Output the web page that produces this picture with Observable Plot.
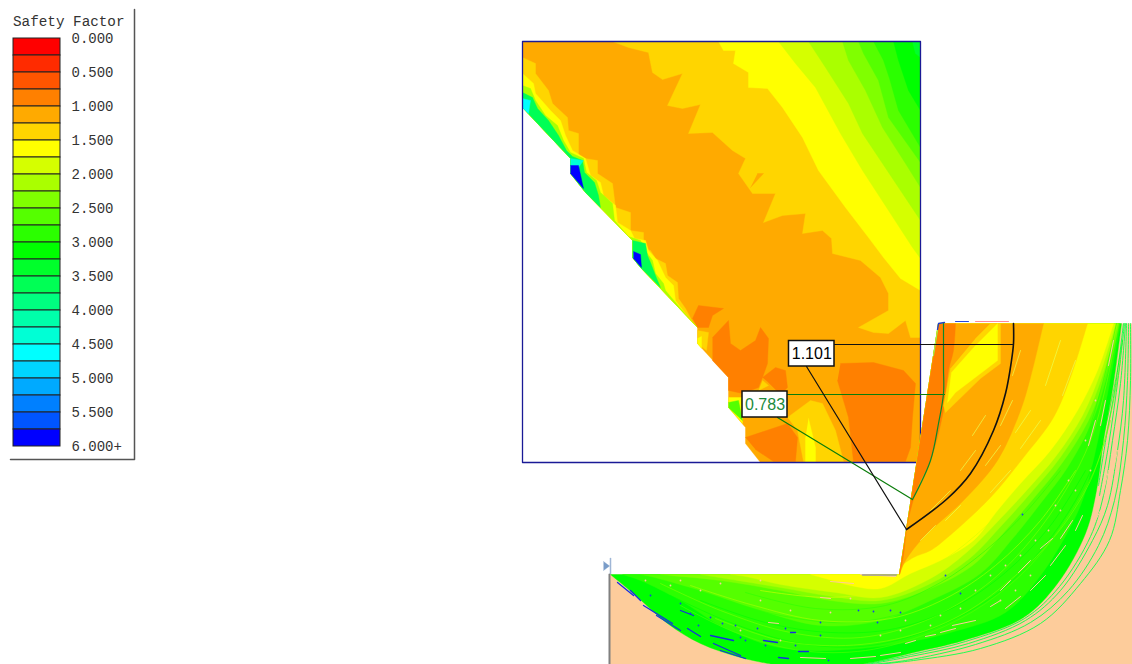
<!DOCTYPE html>
<html><head><meta charset="utf-8">
<style>html,body{margin:0;padding:0;background:#fff}svg{display:block}</style>
<script src="https://cdn.jsdelivr.net/npm/d3@7"></script>
<script src="https://cdn.jsdelivr.net/npm/@observablehq/plot@0.6"></script>
</head><body><div id="chart"></div><script>
const sfLevels=[0,.25,.5,.75,1,1.25,1.5,1.75,2,2.25,2.5,2.75,3,3.25,3.5,3.75,4,4.25,4.5,4.75,5,5.25,5.5,5.75];
const sfColors=["#ff0000","#ff2b00","#ff5500","#ff8000","#ffaa00","#ffd500","#ffff00","#d5ff00","#aaff00","#80ff00","#55ff00","#2bff00","#00ff00","#00ff2b","#00ff55","#00ff80","#00ffaa","#00ffd5","#00ffff","#00d5ff","#00aaff","#0080ff","#0055ff","#0000ff"];
const tickLabels=["0.000","0.500","1.000","1.500","2.000","2.500","3.000","3.500","4.000","4.500","5.000","5.500","6.000+"];
const soilColor="#fdcc9b";

// upper square: contours of safety factor, layered
const domainGrid=[[522,41],[920,41],[920,462],[760,462],[745,443],[745,427],[728,407],[728,377],[697,343],[697,327],[640,267],[632,257],[632,240],[585,192],[570,173],[570,158],[522,107]];
const cutEdge=[[697,327],[640,267],[632,257],[632,240],[585,192],[570,173],[570,158],[522,107]];
const c125=[[612,41],[628,47],[648,52],[652,72],[662,79],[682,73],[667,105],[682,108],[700,104],[688,133],[712,132],[732,150],[745,158],[738,173],[752,193],[775,193],[763,222],[782,215],[805,213],[802,233],[822,230],[831,238],[832,253],[860,260],[880,277],[888,293],[888,310],[858,327],[873,332],[888,333],[905,320],[910,337],[920,337],[920,41]];
const c125pocket=[[750,187],[763,173],[757,173]];
const c150=[[718,41],[723,50],[735,50],[733,63],[748,72],[748,87],[767,88],[782,107],[802,137],[818,170],[845,207],[868,237],[883,257],[900,278],[920,290],[920,41]];
const c175=[[778,41],[795,63],[815,87],[840,133],[862,170],[888,210],[912,247],[920,258],[920,41]];
const c200=[[808,41],[825,67],[848,103],[862,133],[882,163],[902,193],[920,220],[920,41]];
const c225=[[842,41],[848,60],[865,90],[882,127],[905,163],[920,187],[920,41]];
const c250=[[858,41],[863,53],[878,80],[888,117],[920,162],[920,41]];
const c275=[[873,41],[883,60],[889,78],[898,110],[920,147],[920,41]];
const c300=[[893,41],[898,60],[908,90],[920,110],[920,41]];
const c325=[[912,41],[915,53],[920,57],[920,41]];
const stripGold=[[522,57],[535,63],[535,73],[548,90],[552,103],[567,117],[568,130],[578,133],[578,157],[597,160],[597,173],[612,183],[615,207],[630,212],[630,230],[643,232],[643,248],[650,250],[655,258],[665,263],[667,275],[677,282],[678,298],[685,308],[693,323],...cutEdge];
const stripYellow=[[522,73],[533,83],[535,93],[550,110],[560,120],[565,135],[572,150],[585,158],[590,175],[600,182],[603,195],[615,205],[617,222],[630,230],[634,238],[645,240],[648,250],[657,260],[665,277],[673,285],[675,300],[690,320],...cutEdge];
const stripLime=[[522,85],[530,88],[535,100],[545,115],[557,125],[563,140],[570,152],[583,158],[586,172],[596,180],[600,192],[612,203],[614,220],[628,236],[640,240],[646,252],[652,260],[655,273],[663,283],[665,290],[680,308],...cutEdge];
const stripGreenA=[[522,92],[532,97],[537,108],[548,120],[558,135],[566,150],[572,156],[582,160],[584,172],[594,182],[598,195],[600,207],[585,192],[570,173],[570,158],[522,107]];
const stripGreenB=[[632,240],[645,243],[647,255],[650,262],[655,275],[660,287],[640,267],[632,257]];
const pocketCyan1=[[522,98],[530,100],[528,113],[522,107]];
const pocketCyan2=[[570,158],[583,160],[578,167],[570,167]];
const pocketBlue2=[[570,165],[578,165],[583,188],[570,173]];
const pocketBlue3=[[633,251],[640,254],[641,267],[633,258]];
const lowDarkA=[[692,318],[698,305],[723,308],[712,315],[708,327],[697,327]];
const lowGoldA=[[697,330],[708,332],[706,350],[697,343]];
const lowYellowA=[[697,338],[701,336],[701,348],[697,343]];
const lowDarkB=[[712,337],[728,320],[730,343],[740,350],[755,340],[760,327],[768,338],[767,363],[762,377],[758,387],[742,393],[728,390],[728,377],[712,360]];
const lowDarkC=[[762,377],[775,367],[785,370],[787,387],[780,394],[768,382]];
const lowDarkD=[[840,363],[873,362],[903,370],[915,383],[912,417],[910,447],[905,461],[853,461],[848,417],[837,380]];
const lowDarkE=[[745,437],[787,423],[797,437],[795,461],[773,461],[755,449]];
const lowGoldB=[[787,417],[810,400],[822,403],[835,430],[843,461],[803,461],[797,430]];
const lowYellowB=[[808,418],[815,447],[815,461],[805,461],[805,437]];
const lowGoldC=[[762,380],[768,385],[758,390]];
const lowYellowC=[[728,397],[742,397],[742,423],[728,407]];
const lowLimeC=[[728,402],[738,400],[742,420],[728,407]];

// lower part: soil and fan of slip surfaces; the doubled points keep corners sharp
const soil=[[609,574],[899,574],[938,323],[1132,323],[1132,664],[609,664]];
const closeFan=[[899,574],[899,574],[938,323],[938,323]];
const fan300=[[1121,323],[1113,383],[1103,440],[1096,490],[1085,533],[1057,583],[1023,617],[963,640],[913,652],[880,660],[860,664],[860,664],[773,664],[773,664],[740,657],[700,643],[667,623],[633,593],[610,574],[610,574],...closeFan];
const fan275=[[1120,323],[1109,383],[1098,437],[1083,497],[1068,530],[1040,575],[1005,612],[950,632],[905,642],[860,648],[810,650],[770,645],[720,625],[680,600],[640,580],[622,574],[622,574],...closeFan];
const fan250=[[1119,323],[1106,377],[1092,420],[1067,467],[1040,503],[1013,537],[980,573],[930,600],[880,620],[820,625],[760,610],[700,590],[650,576],[640,574],[640,574],...closeFan];
const fan225=[[1118,323],[1104,377],[1088,420],[1062,462],[1033,498],[1005,530],[972,565],[925,590],[880,603],[830,600],[780,590],[720,580],[670,575],[660,574],[660,574],...closeFan];
const fan200=[[1117,323],[1102,375],[1085,417],[1059,458],[1029,494],[1002,524],[969,558],[928,584],[880,600],[832,596],[780,587],[725,578],[700,574],[700,574],...closeFan];
const fan175=[[1115,323],[1100,372],[1082,415],[1056,455],[1026,490],[1000,518],[966,552],[930,578],[880,597],[835,592],[780,584],[745,576],[730,574],[730,574],...closeFan];
const fan150=[[1113,323],[1097,370],[1077,410],[1050,450],[1020,483],[997,510],[973,540],[940,560],[910,573],[880,588],[850,585],[825,578],[810,574],[810,574],...closeFan];
const fan125=[[1087,323],[1070,377],[1053,417],[1023,457],[990,497],[947,537],[930,550],[913,557],[900,567],...closeFan];
const wedge=[[1043,323],[1030,377],[1020,410],[997,460],[963,500],[923,537],[905,560],...closeFan];
const wedgeDark=[[955,323],[953,350],[948,370],[943,410],[930,460],[917,487],[907,523],[903,555],...closeFan];
const wedgeGold=[[975,338],[990,323],[1000,323],[1000,363],[980,378],[945,412],[943,405],[950,368]];
const wedgeYellow=[[997,323],[997,360],[980,373],[955,392],[947,402],[951,372],[975,345]];

const envelopeArcs=[
 [[1130,323],[1130,380],[1127,440],[1120,490],[1109,540],[1080,583],[1040,623],[980,648],[913,660],[875,664]],
 [[1128,323],[1127,380],[1123,440],[1114,500],[1098,545],[1068,590],[1030,622],[975,644],[905,660],[870,664]],
 [[1126,323],[1123,400],[1117,450],[1107,505],[1092,540],[1060,590],[1025,620],[968,643],[910,656],[866,664]],
 [[1125,323],[1120,383],[1112,440],[1103,495],[1090,536],[1059,586],[1024,618],[965,641],[911,654],[863,664]],
 [[1124,323],[1118,375],[1108,445],[1099,495]],
 [[1123,323],[1115,385],[1106,435],[1098,485]]
];
const fanArc1=[[1118,323],[1106,383],[1090,440],[1065,490],[1030,540],[985,585],[925,620],[860,637],[790,632],[720,610],[660,583]];
const fanArc2=[[1116,323],[1102,383],[1084,440],[1056,490],[1020,538],[972,580],[920,607],[850,622],[780,615],[710,595],[650,578]];
const fanArc3=[[1122,340],[1112,395],[1098,450],[1075,500],[1040,550],[998,592],[940,625],[870,645],[800,643],[730,622],[670,595]];
const fanArc4=[[1120,360],[1111,410],[1096,465],[1068,515],[1030,565],[985,603],[930,632],[865,650],[800,650],[735,632],[680,605]];
const fanArc5=[[1110,420],[1090,480],[1055,535],[1015,575],[965,612],[910,635],[845,645],[780,640],[715,618]];
const fanArc6=[[1085,470],[1050,525],[1005,572],[955,606],[895,628],[830,632],[765,622],[700,600]];
const fanArc7=[[1075,470],[1040,520],[995,565],[945,598],[890,618],[820,620],[750,604],[690,585]];
const fanArc8=[[1060,470],[1025,512],[985,550],[940,582],[885,605],[815,608],[745,592]];
const fanArc9=[[1048,455],[1015,495],[975,535],[935,565],[895,587],[830,597],[760,590]];
const soilGaps=[
 [[1117,450],[1111,480]],[[1108,470],[1102,495]],[[1100,510],[1090,530]],[[1072,520],[1060,538]],[[1082,515],[1075,530]],
 [[1052,538],[1040,548]],[[1065,545],[1050,565]],[[1045,575],[1030,590]],[[1020,596],[1005,608]],[[955,628],[940,632]],[[952,625],[975,620]],
 [[915,640],[905,643]],[[925,636],[935,634]],[[1000,600],[990,606]],[[1030,560],[1018,572]],[[1010,580],[1000,590]],[[1095,420],[1088,445]],
 [[1105,400],[1100,425]],[[1113,340],[1108,365]],[[830,581],[853,583]],[[860,574],[895,576]],[[820,597],[830,598]],[[768,622],[778,623]],
 [[800,657],[825,658]],[[880,655],[900,652]],[[850,658],[875,656]]
];
const lightStreaks=[
 [[1060,340],[1045,385]],[[1075,360],[1062,395]],[[1040,420],[1020,448]],[[1010,470],[990,492]],[[1000,445],[985,465]],[[960,505],[945,520]],[[1030,410],[1015,432]],
 [[950,490],[930,510]],[[975,450],[960,470]],[[1012,400],[1000,425]],[[1020,350],[1012,375]],[[985,415],[972,435]],[[935,525],[920,540]]
];
const blueStreaks=[
 [[617,582],[633,595]],[[643,605],[672,623]],[[656,615],[680,630]],[[680,610],[693,615]],[[710,635],[733,640]],[[713,643],[740,655]],[[763,640],[777,642]],
 [[790,632],[795,632]],[[778,657],[788,658]],[[798,651],[808,651]],[[687,628],[700,636]],[[720,650],[745,658]],[[630,590],[640,600]]
];
const blueSpecks=[[650,595],[680,603],[710,617],[722,623],[735,625],[740,637],[745,640],[757,628],[795,645],[820,622],[858,610],[873,611],[877,622],[820,635],[828,660],[890,610],[900,612],[960,593],[1022,514],[945,575],[785,628],[765,645],[690,613],[698,625]];
const soilSpecks=[[645,580],[670,585],[700,590],[720,583],[760,600],[790,610],[830,612],[850,598],[880,635],[900,630],[940,615],[960,608],[975,590],[990,575],[1005,565],[1020,555],[1035,540],[1048,530],[1000,600],[1015,590],[1030,575],[1060,510],[1075,490],[1090,470],[1068,480],[1055,505],[1085,440],[1095,400],[930,625],[905,620],[780,640],[740,630],[680,580],[760,580]];

const arcBlack=[[906,529],[947,498],[970,473],[993,430],[1005,393],[1011,360],[1013,343],[1013,323]];
const arcGreen=[[912,499],[930,460],[938,423],[943,393],[943,367],[943,323]];
const leaderBlack1=[[834,344],[1012,344]];
const leaderBlack2=[[806,366],[906,529]];
const leaderGreen1=[[787,394],[944,394]];
const leaderGreen2=[[777,417],[912,499]];
const frameSquare=[[920,445],[920,41],[522,41],[522,462],[917,462]];
const frameLegend=[[134,9],[134,459],[10,459]];
const slopeStart=[[603,561],[609,565.5],[603,570]];
const flagPole=[[610,558],[610,573]];
const leftWall=[[609,574],[609,664]];
const floorGrey=[[862,574.5],[896,574.5]];
const topNoiseBlue=[[955,321],[968,321]];
const topNoisePink=[[975,321],[1008,321]];
const cornerBlue=[[937,329],[938,323],[944,322]];
const edgeLime=[[937,330],[933,355]];
const calloutBoxes=[{v:"1.101",x1:788.5,x2:834,y1:340.5,y2:366,c:"#000"},{v:"0.783",x1:742,x2:787,y1:391,y2:417,c:"#1b8a3c"}];

const xf=d=>d[0], yf=d=>d[1];
const poly=(sf,pts)=>Plot.line(pts,{x:xf,y:yf,fill:()=>sf,stroke:()=>sf,strokeWidth:.4,curve:"linear"});
const fanPoly=(sf,pts)=>Plot.line(pts,{x:xf,y:yf,fill:()=>sf,stroke:()=>sf,strokeWidth:.4,curve:"catmull-rom"});
const stroke=(pts,color,w,extra={})=>Plot.line(pts,{x:xf,y:yf,stroke:color,strokeWidth:w,...extra});
const fanArc=(pts,sf)=>Plot.line(pts,{x:xf,y:yf,stroke:()=>sf,strokeWidth:.8,strokeOpacity:.75,curve:"catmull-rom"});

const marks=[
 // legend
 Plot.rect(sfLevels,{x1:()=>13,x2:()=>60,y1:d=>38+d*68,y2:d=>38+(d+.25)*68,fill:d=>d,stroke:"#222",strokeWidth:1}),
 stroke(frameLegend,"#555",1.5),
 Plot.text(["Safety Factor"],{x:()=>12.5,y:()=>21,text:d=>d,textAnchor:"start",fontFamily:"Liberation Mono",fontSize:14.3,fill:"#333"}),
 Plot.text(tickLabels,{x:()=>71,y:(d,i)=>38+34*i,text:d=>d,textAnchor:"start",fontFamily:"Liberation Mono",fontSize:14,fill:"#333"}),
 // square
 poly(1,domainGrid),poly(1.25,c125),poly(1,c125pocket),poly(1.5,c150),poly(1.75,c175),poly(2,c200),poly(2.25,c225),poly(2.5,c250),poly(2.75,c275),poly(3,c300),poly(3.25,c325),
 poly(1.25,stripGold),poly(1.5,stripYellow),poly(2,stripLime),poly(3.5,stripGreenA),poly(3.5,stripGreenB),poly(4.5,pocketCyan1),poly(4.25,pocketCyan2),poly(5.75,pocketBlue2),poly(5.75,pocketBlue3),
 poly(.75,lowDarkA),poly(1.25,lowGoldA),poly(1.5,lowYellowA),poly(.75,lowDarkB),poly(.75,lowDarkC),poly(.75,lowDarkD),poly(.75,lowDarkE),poly(1.25,lowGoldB),poly(1.5,lowYellowB),poly(1.25,lowGoldC),poly(1.5,lowYellowC),poly(2.5,lowLimeC),
 stroke(frameSquare,"#1a1a96",1.3),
 // soil and fan
 Plot.line(soil,{x:xf,y:yf,fill:soilColor,stroke:soilColor,strokeWidth:.3}),
 ...envelopeArcs.map(a=>stroke(a,"#20ff50",1,{curve:"catmull-rom"})),
 fanPoly(3,fan300),fanPoly(2.75,fan275),fanPoly(2.5,fan250),fanPoly(2.25,fan225),fanPoly(2,fan200),fanPoly(1.75,fan175),fanPoly(1.5,fan150),fanPoly(1.25,fan125),
 fanPoly(1,wedge),fanPoly(.75,wedgeDark),poly(1.25,wedgeGold),poly(1.5,wedgeYellow),
 fanArc(fanArc1,2.25),fanArc(fanArc2,2.75),fanArc(fanArc3,3),fanArc(fanArc4,2.5),fanArc(fanArc5,2.25),fanArc(fanArc6,3),fanArc(fanArc7,2),fanArc(fanArc8,2.75),fanArc(fanArc9,1.75),
 ...soilGaps.map(a=>stroke(a,soilColor,1)),
 ...lightStreaks.map(a=>stroke(a,"#eaff50",1,{strokeOpacity:.7})),
 ...blueStreaks.map(a=>stroke(a,"#1530e0",1.3)),
 Plot.dot(blueSpecks,{x:xf,y:yf,r:.9,fill:"#1a40e8"}),
 Plot.dot(soilSpecks,{x:xf,y:yf,r:.9,fill:soilColor}),
 stroke(leftWall,"#808080",2),
 stroke(floorGrey,"#9a9a9a",1.5),
 stroke(flagPole,"#9fb6d6",1.5),
 Plot.line(slopeStart,{x:xf,y:yf,fill:"#7a9cc8",stroke:"#7a9cc8",strokeWidth:.4}),
 stroke(topNoiseBlue,"#2848d8",1),stroke(topNoisePink,"#ff8a9a",1),stroke(cornerBlue,"#2040c8",1.4),stroke(edgeLime,"#90ff50",1),
 // critical surfaces and callouts
 stroke(leaderGreen1,"#0a7d0a",1.2),stroke(leaderGreen2,"#0a7d0a",1.2),stroke(arcGreen,"#0a8a2a",1.2,{curve:"catmull-rom"}),
 stroke(leaderBlack1,"#111",1.2),stroke(leaderBlack2,"#111",1.2),stroke(arcBlack,"#111",1.6,{curve:"catmull-rom"}),
 Plot.rect(calloutBoxes,{x1:"x1",x2:"x2",y1:"y1",y2:"y2",fill:"#fff",stroke:"#111",strokeWidth:1.5}),
 Plot.text(calloutBoxes,{x:d=>(d.x1+d.x2)/2,y:d=>(d.y1+d.y2)/2+.5,text:"v",fill:"c",fontFamily:"Liberation Sans",fontSize:16})
];

const chart=Plot.plot({width:1132,height:664,margin:0,
 x:{domain:[0,1132],range:[0,1132],axis:null},
 y:{domain:[0,664],range:[0,664],axis:null},
 color:{type:"ordinal",domain:sfLevels,range:sfColors,legend:false},
 style:{background:"#fff"},
 marks});
document.getElementById("chart").append(chart);
</script></body></html>
